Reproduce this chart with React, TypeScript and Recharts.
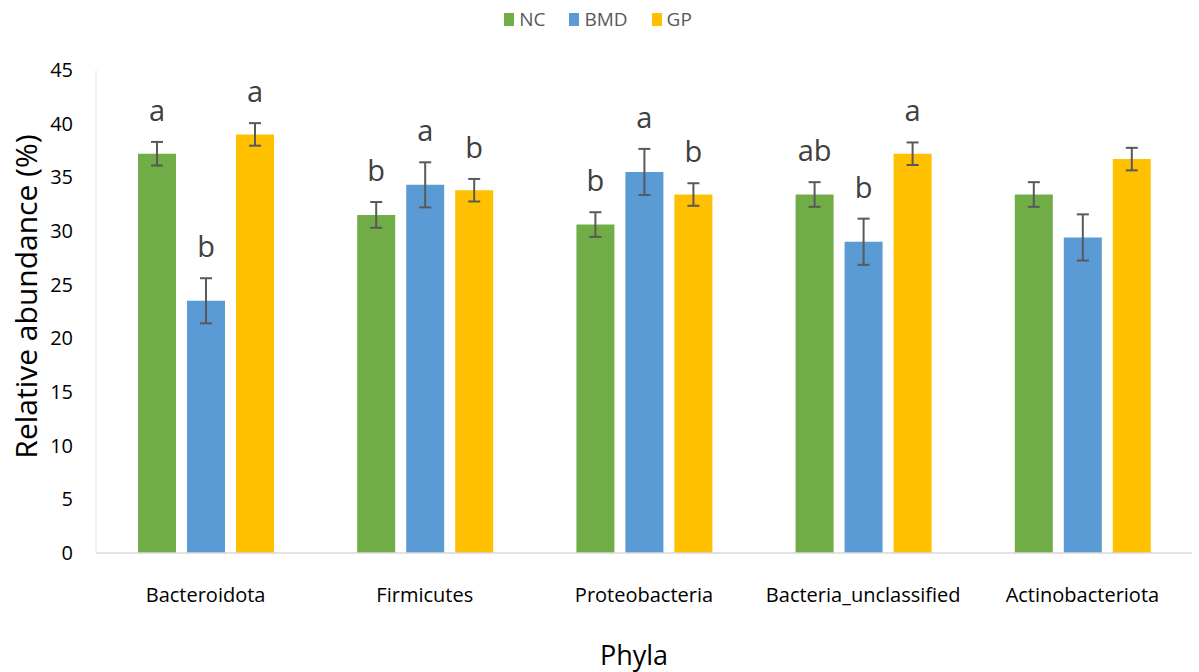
import { BarChart, Bar, XAxis, YAxis, Legend, ErrorBar, LabelList } from "recharts";

const phyla = ["Bacteroidota", "Firmicutes", "Proteobacteria", "Bacteria_unclassified", "Actinobacteriota"];

const nc = [37.2, 31.5, 30.6, 33.4, 33.4];
const ncErr = [1.1, 1.2, 1.15, 1.15, 1.15];
const ncLetters = ["a", "b", "b", "ab", ""];

const bmd = [23.5, 34.3, 35.5, 29.0, 29.4];
const bmdErr = [2.1, 2.1, 2.15, 2.15, 2.15];
const bmdLetters = ["b", "a", "a", "b", ""];

const gp = [39.0, 33.8, 33.4, 37.2, 36.7];
const gpErr = [1.05, 1.05, 1.05, 1.05, 1.05];
const gpLetters = ["a", "b", "b", "a", ""];

const yTicks = [0, 5, 10, 15, 20, 25, 30, 35, 40, 45];

const series = [
  { key: "NC", color: "#70AD47", values: nc, errs: ncErr, letters: ncLetters },
  { key: "BMD", color: "#5B9BD5", values: bmd, errs: bmdErr, letters: bmdLetters },
  { key: "GP", color: "#FFC000", values: gp, errs: gpErr, letters: gpLetters },
];

const data = phyla.map((name, i) => {
  const row: Record<string, string | number> = { name };
  series.forEach((s) => {
    row[s.key] = s.values[i];
    row[s.key + "_err"] = s.errs[i];
    row[s.key + "_sig"] = s.letters[i];
  });
  return row;
});

const FONT = "'Open Sans', sans-serif";
const GREY = "#595959";

// significance letter sits a little above the upper error cap
function sigLabel(values: number[], errs: number[]) {
  return (props: any) => {
    const { x, y, width, height, value, index } = props;
    if (!value) return null;
    const pxPerUnit = height / values[index];
    const capY = y - errs[index] * pxPerUnit;
    return (
      <text x={x + width / 2} y={capY - 21} textAnchor="middle" fontFamily={FONT} fontSize={29} fill="#404040">
        {value}
      </text>
    );
  };
}

function LegendRow() {
  return (
    <div style={{ display: "flex", justifyContent: "center", gap: 24, fontFamily: FONT, fontSize: 19, color: GREY, height: 30, alignItems: "center", paddingLeft: 4 }}>
      {series.map((s) => (
        <div key={s.key} style={{ display: "flex", alignItems: "center", gap: 5 }}>
          <span style={{ width: 10, height: 13, background: s.color, display: "inline-block" }} />
          <span>{s.key}</span>
        </div>
      ))}
    </div>
  );
}

function CategoryTick(props: any) {
  const { x, y, payload } = props;
  return (
    <text x={x} y={y + 41} textAnchor="middle" fontFamily={FONT} fontSize={20} fill="#000">
      {payload.value}
    </text>
  );
}

export default function App() {
  return (
    <div style={{ position: "absolute", left: 0, top: 0, background: "#fff" }}>
      <BarChart
        width={1199}
        height={672}
        data={data}
        margin={{ top: 40, right: 7, bottom: 0, left: 0 }}
        barSize={38}
        barGap={11}
      >
        <Legend verticalAlign="top" content={<LegendRow />} wrapperStyle={{ top: 4 }} />
        <XAxis
          dataKey="name"
          height={119}
          axisLine={{ stroke: "#d9d9d9", strokeWidth: 1.5 }}
          tickLine={false}
          tick={<CategoryTick />}
          label={(p: any) => {
            const vb = p.viewBox;
            return (
              <text x={vb.x + vb.width / 2 - 10} y={vb.y + 112} textAnchor="middle" fontFamily={FONT} fontSize={27} fill="#000">
                Phyla
              </text>
            );
          }}
        />
        <XAxis xAxisId="frame" orientation="top" dataKey="name" height={0} tick={false} tickLine={false} axisLine={{ stroke: "#efefef" }} />
        <YAxis
          width={96}
          domain={[0, 45]}
          ticks={yTicks}
          interval={0}
          tickLine={false}
          tickMargin={17}
          axisLine={{ stroke: "#e6e6e6" }}
          tick={{ fontFamily: FONT, fontSize: 20, fill: "#000" }}
          label={(p: any) => {
            const vb = p.viewBox;
            const cx = 25;
            const cy = vb.y + vb.height / 2 - 15;
            return (
              <text x={cx} y={cy} transform={`rotate(-90 ${cx} ${cy})`} textAnchor="middle" dominantBaseline="central" fontFamily={FONT} fontSize={30} fill="#000">
                Relative abundance (%)
              </text>
            );
          }}
        />
        <YAxis yAxisId="frame" orientation="right" width={0} domain={[0, 45]} tick={false} tickLine={false} axisLine={{ stroke: "#efefef" }} />
        {series.map((s) => (
          <Bar key={s.key} dataKey={s.key} fill={s.color} isAnimationActive={false}>
            <ErrorBar dataKey={s.key + "_err"} width={6} stroke={GREY} strokeWidth={2} />
            <LabelList dataKey={s.key + "_sig"} content={sigLabel(s.values, s.errs)} />
          </Bar>
        ))}
      </BarChart>
    </div>
  );
}
